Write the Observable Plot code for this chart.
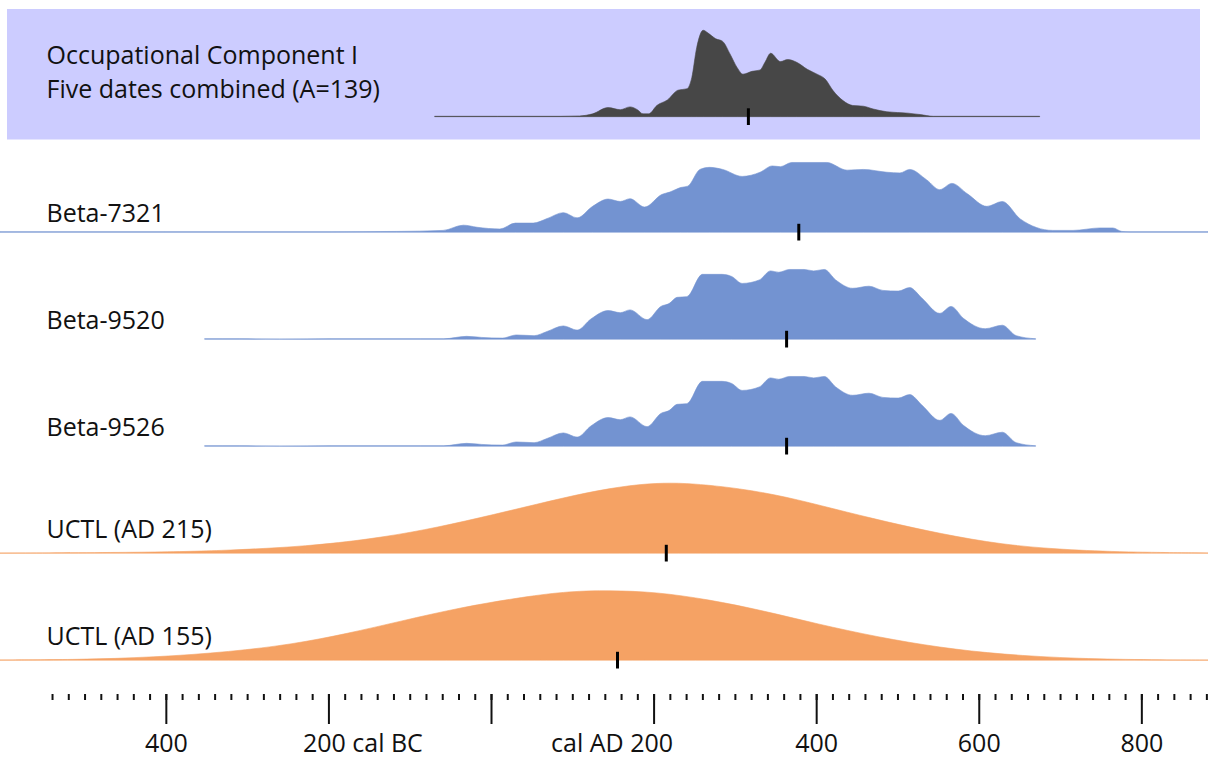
<!DOCTYPE html>
<html><head><meta charset="utf-8">
<script src="https://cdn.jsdelivr.net/npm/d3@7"></script>
<script src="https://cdn.jsdelivr.net/npm/@observablehq/plot@0.6"></script>
<style>html,body{margin:0;padding:0;background:#fff;} #chart svg{display:block;}</style>
</head><body><div id="chart"></div>
<script>
// Series (rows, top to bottom)
const seriesIds = ["combined", "Beta-7321", "Beta-9520", "Beta-9526", "UCTL (AD 215)", "UCTL (AD 155)"];
const seriesLabels = ["Occupational Component I\nFive dates combined (A=139)", "Beta-7321", "Beta-9520", "Beta-9526", "UCTL (AD 215)", "UCTL (AD 155)"];
const seriesColors = ["#474747", "#7393d1", "#7393d1", "#7393d1", "#f5a264", "#f5a264"];
// median (calendar year, negative = BC)
const medians = [316, 378, 363, 363, 215, 155];

// [calendar year, relative probability]
const combinedProb = [[-69,0.005],[85,0.005],[109,0.01],[125,0.04],[144,0.13],[159,0.10],[171,0.14],[180,0.10],[187,0.04],[194,0.04],[204,0.16],[217,0.24],[230,0.38],[241,0.40],[247,0.56],[253,0.99],[261,1.24],[267,1.20],[276,1.12],[285,1.08],[294,0.90],[303,0.70],[310,0.61],[321,0.65],[331,0.67],[337,0.78],[344,0.91],[356,0.79],[365,0.82],[376,0.78],[389,0.68],[401,0.61],[411,0.54],[421,0.37],[433,0.23],[445,0.16],[458,0.15],[470,0.11],[487,0.07],[513,0.05],[528,0.03],[544,0.005],[577,0.005],[675,0.005]];
const beta7321Prob = [[-604,0.005],[-198,0.005],[-116,0.01],[-59,0.025],[-34,0.10],[-17,0.07],[11,0.045],[30,0.13],[52,0.13],[69,0.195],[89,0.28],[106,0.205],[125,0.37],[144,0.475],[159,0.44],[171,0.48],[189,0.36],[210,0.54],[220,0.575],[233,0.64],[242,0.66],[257,0.90],[269,0.93],[285,0.90],[309,0.80],[331,0.86],[346,0.95],[356,0.94],[370,1.0],[413,1.0],[438,0.89],[458,0.90],[487,0.86],[503,0.85],[515,0.90],[536,0.75],[552,0.61],[567,0.70],[586,0.55],[610,0.37],[629,0.44],[651,0.19],[691,0.025],[716,0.025],[749,0.06],[765,0.06],[776,0.01],[786,0.005],[882,0.005]];
const beta9520Prob = [[-352,0.005],[-309,0.005],[-260,null],[-198,0.005],[-87,0.005],[-58,0.005],[-30,0.04],[-12,0.025],[14,0.015],[31,0.06],[53,0.05],[69,0.11],[89,0.19],[106,0.13],[123,0.29],[144,0.41],[159,0.38],[171,0.42],[192,0.28],[209,0.47],[219,0.51],[229,0.60],[241,0.61],[260,0.93],[284,0.93],[296,0.90],[309,0.80],[330,0.85],[344,0.98],[354,0.96],[367,1.0],[385,1.0],[397,0.98],[410,1.0],[424,0.85],[445,0.73],[465,0.76],[482,0.70],[501,0.69],[515,0.74],[530,0.59],[552,0.37],[566,0.47],[581,0.30],[608,0.15],[629,0.20],[646,0.05],[670,0.005]];
const beta9526Prob = [[-352,0.005],[-309,0.005],[-260,null],[-198,0.005],[-87,0.005],[-58,0.005],[-30,0.04],[-12,0.025],[14,0.015],[31,0.06],[53,0.05],[69,0.11],[89,0.19],[106,0.13],[123,0.29],[144,0.41],[159,0.38],[171,0.42],[192,0.28],[209,0.47],[219,0.51],[229,0.60],[241,0.61],[260,0.93],[284,0.93],[296,0.90],[309,0.80],[330,0.85],[344,0.98],[354,0.96],[367,1.0],[385,1.0],[397,0.98],[410,1.0],[424,0.85],[445,0.73],[465,0.76],[482,0.70],[501,0.69],[515,0.74],[530,0.59],[552,0.37],[566,0.47],[581,0.30],[608,0.15],[629,0.20],[646,0.05],[670,0.005]];
const uctl215Prob = [[-604,0.002],[-415,0.01],[-320,0.04],[-225,0.10],[-149,0.20],[-82,0.33],[-16,0.50],[59,0.71],[117,0.87],[173,0.98],[213,1.01],[248,1.0],[306,0.93],[363,0.81],[420,0.64],[486,0.45],[552,0.28],[629,0.12],[704,0.05],[780,0.014],[882,0.003]];
const uctl155Prob = [[-604,0.003],[-509,0.007],[-415,0.04],[-320,0.12],[-243,0.23],[-177,0.38],[-111,0.56],[-36,0.76],[41,0.91],[97,0.99],[145,1.0],[202,0.98],[268,0.87],[335,0.71],[401,0.52],[476,0.33],[552,0.18],[629,0.08],[723,0.02],[818,0.004],[882,0.002]];

// Axis ticks
const majorTicks = [-400, -200, 0, 200, 400, 600, 800];
const majorTickLabels = ["400", "200 cal BC", "", "cal AD 200", "400", "600", "800"];
const minorTicks = d3.range(-540, 881, 20);

const xDomain = [-604, 882];
const yDomain = [-0.486, 1.05];

const probs = [combinedProb, beta7321Prob, beta9520Prob, beta9526Prob, uctl215Prob, uctl155Prob];
const curves = probs.flatMap((arr, i) => arr.map(([year, p]) => ({id: seriesIds[i], year, p})));
const rows = seriesIds.map((id, i) => ({id, label: seriesLabels[i], median: medians[i]}));
const tickLabels = majorTicks.map((t, i) => ({t, label: majorTickLabels[i]})).filter((d) => d.label !== "");
const isBC = (d) => d.label.endsWith("BC");
const isAD = (d) => d.label.startsWith("cal AD");
const bottomRow = () => seriesIds[seriesIds.length - 1];

const isComb = (d) => d.id === "combined";
const isUctl = (d) => d.id.startsWith("UCTL");

const chart = Plot.plot({
  width: 1208,
  height: 762,
  marginTop: 50,
  marginBottom: 67,
  marginLeft: 0,
  marginRight: 0,
  style: {fontFamily: "'Open Sans', sans-serif", fontSize: "25px", color: "#111", background: "#fff"},
  x: {domain: xDomain, label: null},
  y: {domain: yDomain, axis: null},
  fy: {domain: seriesIds, padding: 0, axis: null},
  color: {domain: seriesIds, range: seriesColors},
  marks: [
    Plot.rect(rows.filter(isComb), {fy: "id", x1: xDomain[0], x2: xDomain[1], y1: yDomain[0], y2: yDomain[1],
      fill: "#ccccff", insetLeft: 7, insetRight: 8, insetTop: -43, insetBottom: 19.5}),
    // combined row sits slightly higher in its band
    Plot.areaY(curves.filter(isComb), {x: "year", y: "p", fy: "id", fill: "id", stroke: "id",
      strokeWidth: 1, strokeOpacity: 0.6, curve: "monotone-x", dy: -8.5}),
    Plot.areaY(curves.filter((d) => !isComb(d) && !isUctl(d)), {x: "year", y: "p", fy: "id", z: "id", fill: "id", stroke: "id",
      strokeWidth: 1, strokeOpacity: 0.6, curve: "monotone-x"}),
    Plot.areaY(curves.filter(isUctl), {x: "year", y: "p", fy: "id", z: "id", fill: "id", stroke: "id",
      strokeWidth: 1, strokeOpacity: 0.6, curve: "basis"}),
    Plot.ruleX(rows.filter(isComb), {x: "median", fy: "id", y1: -0.12, y2: 0.12, stroke: "#000", strokeWidth: 3, dy: -8.5}),
    Plot.ruleX(rows.filter((d) => !isComb(d)), {x: "median", fy: "id", y1: -0.12, y2: 0.12, stroke: "#000", strokeWidth: 3}),
    Plot.text(rows.filter(isComb), {fy: "id", x: xDomain[0], y: 0, text: "label", dx: 46, dy: -87,
      textAnchor: "start", lineAnchor: "top", lineHeight: 1.4, fontSize: 25, fill: "#111"}),
    Plot.text(rows.filter((d) => !isComb(d) && !isUctl(d)), {fy: "id", x: xDomain[0], y: 0, text: "label", dx: 46, dy: -28,
      textAnchor: "start", lineAnchor: "top", fontSize: 25, fill: "#111"}),
    Plot.text(rows.filter(isUctl), {fy: "id", x: xDomain[0], y: 0, text: "label", dx: 46, dy: -33,
      textAnchor: "start", lineAnchor: "top", fontSize: 25, fill: "#111"}),
    Plot.axisX(minorTicks, {tickSize: 6, strokeWidth: 2, tickFormat: () => "", label: null}),
    Plot.axisX(majorTicks, {tickSize: 30, strokeWidth: 2, tickFormat: () => "", label: null}),
    Plot.text(tickLabels.filter((d) => !isBC(d) && !isAD(d)), {x: "t", text: "label", fy: bottomRow,
      frameAnchor: "bottom", lineAnchor: "top", dy: 40, fontSize: 25, fill: "#111"}),
    Plot.text(tickLabels.filter(isBC), {x: "t", text: "label", fy: bottomRow,
      frameAnchor: "bottom", lineAnchor: "top", dy: 40, dx: -26, textAnchor: "start", fontSize: 25, fill: "#111"}),
    Plot.text(tickLabels.filter(isAD), {x: "t", text: "label", fy: bottomRow,
      frameAnchor: "bottom", lineAnchor: "top", dy: 40, dx: 19, textAnchor: "end", fontSize: 25, fill: "#111"})
  ]
});
document.getElementById("chart").append(chart);
</script></body></html>
